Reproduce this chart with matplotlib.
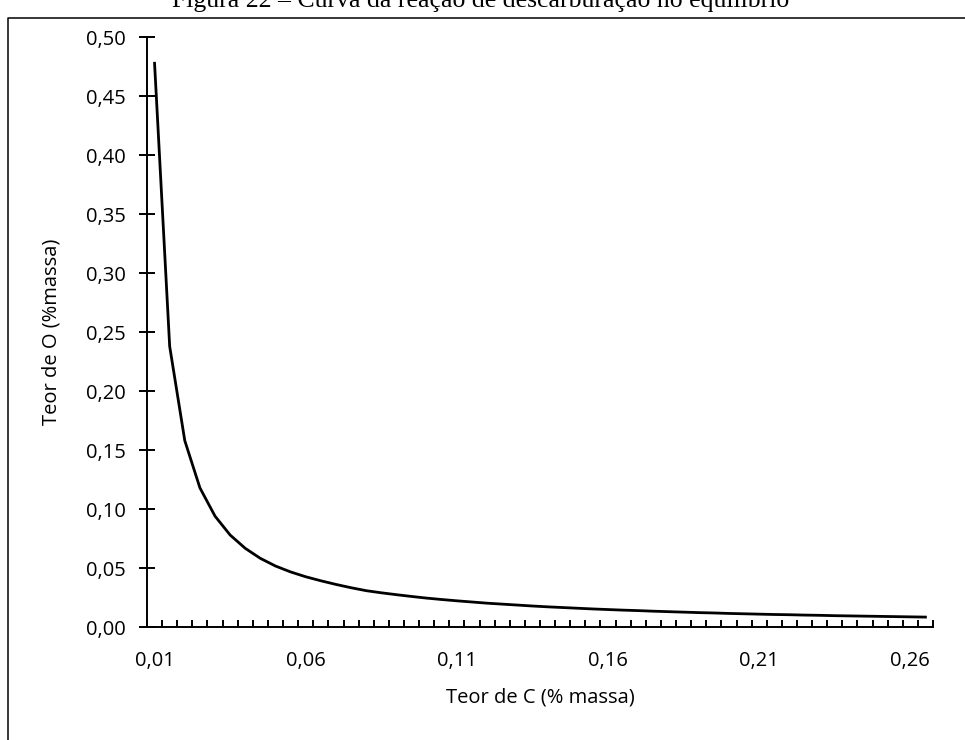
import matplotlib
matplotlib.use("Agg")
import matplotlib.pyplot as plt
from matplotlib.lines import Line2D
import numpy as np

# teor de C (% massa) - categorias do eixo x
teor_c = [0.010, 0.015, 0.020, 0.025, 0.030, 0.035, 0.040, 0.045, 0.050, 0.055,
          0.060, 0.065, 0.070, 0.075, 0.080, 0.085, 0.090, 0.095, 0.100, 0.105,
          0.110, 0.115, 0.120, 0.125, 0.130, 0.135, 0.140, 0.145, 0.150, 0.155,
          0.160, 0.165, 0.170, 0.175, 0.180, 0.185, 0.190, 0.195, 0.200, 0.205,
          0.210, 0.215, 0.220, 0.225, 0.230, 0.235, 0.240, 0.245, 0.250, 0.255,
          0.260, 0.265]

# teor de O (% massa)
teor_o = [0.478, 0.238, 0.158, 0.118, 0.094, 0.0780, 0.0667, 0.0582, 0.0517, 0.0467,
          0.0426, 0.0392, 0.0361, 0.0333, 0.0308, 0.0290, 0.0274, 0.0259, 0.0245, 0.0233,
          0.0222, 0.0212, 0.0202, 0.0194, 0.0186, 0.0178, 0.0171, 0.0165, 0.0159, 0.0153,
          0.0148, 0.0143, 0.0139, 0.0134, 0.0130, 0.0126, 0.0122, 0.0119, 0.0115, 0.0112,
          0.0109, 0.0106, 0.0104, 0.0101, 0.0099, 0.0096, 0.0094, 0.0092, 0.0090, 0.0088,
          0.0086, 0.0084]

y_ticks = [0.00, 0.05, 0.10, 0.15, 0.20, 0.25, 0.30, 0.35, 0.40, 0.45, 0.50]
label_every = 10

plt.rcParams["font.family"] = ["Open Sans", "DejaVu Sans"]

W, H = 965, 740
fig = plt.figure(figsize=(W / 100, H / 100), dpi=100)
ax = fig.add_axes([147 / W, 1 - 627 / H, (933 - 147) / W, (627 - 37.3) / H])

n = len(teor_c)
x = np.arange(n)
ax.plot(x, teor_o, color="black", lw=2.0, solid_joinstyle="miter")

ax.set_xlim(-0.5, n - 0.5)
ax.set_ylim(0, 0.5)

for s in ["top", "right"]:
    ax.spines[s].set_visible(False)
for s in ["left", "bottom"]:
    ax.spines[s].set_linewidth(1.4)

ax.set_yticks(y_ticks)
ax.set_yticklabels([f"{v:.2f}".replace(".", ",") for v in y_ticks])
ax.tick_params(axis="y", direction="inout", length=11, width=1.4, labelsize=14.5, pad=10)

major = x[::label_every]
ax.set_xticks(major)
ax.set_xticklabels([f"{teor_c[i]:.2f}".replace(".", ",") for i in major])
ax.tick_params(axis="x", which="major", length=0, labelsize=14.5, pad=17)
ax.set_xticks(np.arange(n + 1) - 0.5, minor=True)
ax.tick_params(axis="x", which="minor", direction="in", length=5, width=1.4)

fig.text(540 / W, 1 - 698 / H, "Teor de C (% massa)", ha="center", va="center", fontsize=14.5)
fig.text(52 / W, 1 - 332 / H, "Teor de O (%massa)", ha="center", va="center",
         rotation=90, fontsize=14.5)

# titulo cortado no topo
fig.text(481 / W, 1 - 7 / H, "Figura 22 – Curva da reação de descarburação no equilíbrio",
         ha="center", va="baseline", fontsize=18.5, family="Liberation Serif")

# moldura
fig.add_artist(Line2D([8 / W, 8 / W, 1.01], [-0.01, 1 - 18 / H, 1 - 18 / H],
                      transform=fig.transFigure, color="black", lw=1.1))

fig.savefig("out.png", dpi=100)
